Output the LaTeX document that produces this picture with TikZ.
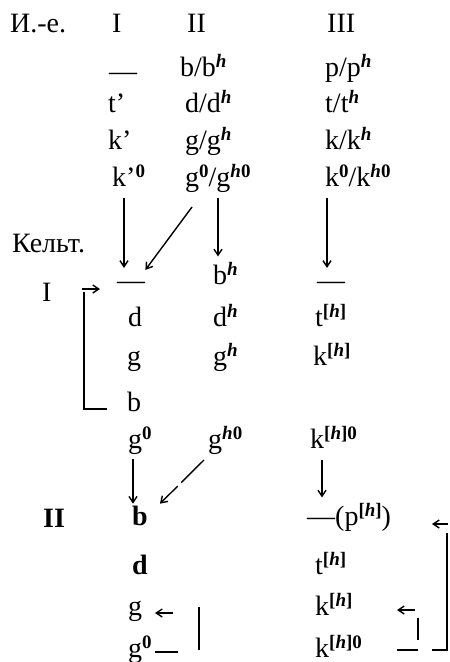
\documentclass[tikz,border=0pt]{standalone}
\usepackage{fontspec}
\setmainfont{Liberation Serif}
\usetikzlibrary{arrows.meta}
\newcommand\up[1]{\raisebox{8.5pt}{\fontsize{19}{19}\selectfont\bfseries #1}}
\newcommand\suph{\up{\textit{h}}}
\newcommand\supbh{\up{[\textit{h}]}}
\newcommand\supbhz{\up{[\textit{h}]0}}
\newcommand\suphz{\up{\textit{h}0}}
\newcommand\supz{\up{0}}
\begin{document}
\begin{tikzpicture}[x=1pt,y=-1pt,
  every node/.style={inner sep=0pt, font=\fontsize{28}{32}\selectfont},
  txt/.style={anchor=mid west},
  arr/.style={line width=1.4pt, -{Straight Barb[length=6pt,width=8pt]}},
  ln/.style={line width=1.5pt}]
\useasboundingbox[fill=white] (0,0) rectangle (450,662);
% header
\node[txt] (ie) at (10,30) {И.-е.};
\node[txt] (h1) at (112,30) {I};
\node[txt] (h2) at (187,30) {II};
\node[txt] (h3) at (327,30) {III};
% Indo-European rows
\node[txt] (aI1) at (109,78) {—};
\node[txt] (aII1) at (180,74) {b/b\suph};
\node[txt] (aIII1) at (325,74) {p/p\suph};
\node[txt] (aI2) at (108,110) {t’};
\node[txt] (aII2) at (185,110) {d/d\suph};
\node[txt] (aIII2) at (325,110) {t/t\suph};
\node[txt] (aI3) at (108,147) {k’};
\node[txt] (aII3) at (185,147) {g/g\suph};
\node[txt] (aIII3) at (325,147) {k/k\suph};
\node[txt] (aI4) at (112,184) {k’\supz};
\node[txt] (aII4) at (185,184) {g\supz/g\suphz};
\node[txt] (aIII4) at (325,184) {k\supz/k\suphz};
% Celtic
\node[txt] (kelt) at (12,250) {Кельт.};
\node[txt] (cI) at (42,299) {I};
\node[txt] (bI5) at (117,287) {—};
\node[txt] (bII5) at (213,282) {b\suph};
\node[txt] (bIII5) at (317,287) {—};
\node[txt] (bI6) at (128,324) {d};
\node[txt] (bII6) at (213,324) {d\suph};
\node[txt] (bIII6) at (315,324) {t\supbh};
\node[txt] (bI7) at (127,363) {g};
\node[txt] (bII7) at (213,363) {g\suph};
\node[txt] (bIII7) at (313,363) {k\supbh};
\node[txt] (bI8) at (127,409) {b};
\node[txt] (bI9) at (128,446) {g\supz};
\node[txt] (bII9) at (208,446) {g\suphz};
\node[txt] (bIII9) at (310,446) {k\supbhz};
\node[txt] (cII) at (43,525) {\bfseries II};
\node[txt] (bI10) at (132,523) {\bfseries b};
\node[txt] (bIII10) at (307,523) {—(p\supbh)};
\node[txt] (bI11) at (132,572) {\bfseries d};
\node[txt] (bIII11) at (315,572) {t\supbh};
\node[txt] (bI12) at (128,613) {g};
\node[txt] (bIII12) at (315,613) {k\supbh};
\node[txt] (bI13) at (128,655) {g\supz};
\node[txt] (bIII13) at (315,655) {k\supbhz};
% arrows, upper part
\coordinate (s1) at (124,198);
\coordinate (s2) at (218,198);
\coordinate (s3) at (327,198);
\coordinate (s4) at (192,207);
\draw[arr] (s1) -- ([yshift=14pt]s1 |- bI5.north);
\draw[arr] (s4) -- ([yshift=12pt]bI5.north east);
\draw[arr] (s2) -- ([yshift=6pt]s2 |- bII5.north);
\draw[arr] (s3) -- ([yshift=14pt]s3 |- bIII5.north);
% bracket Celtic I
\draw[ln] ([xshift=-20pt]bI8.mid west) -- ([xshift=-43pt]bI8.mid west)
  -- ([xshift=-43pt,yshift=-5pt]bI8.mid west |- bI5.mid west);
\draw[arr] ([xshift=-35pt,yshift=-2pt]bI5.mid west) -- ([xshift=-17pt,yshift=-2pt]bI5.mid west);
% arrows, lower part
\coordinate (t1) at (133,459);
\coordinate (t2) at (204,460);
\coordinate (t3) at (322,460);
\draw[arr] (t1) -- ([yshift=2pt]t1 |- bI10.north);
\draw[arr, dash pattern=on 32pt off 5pt] (t2) -- ([xshift=20pt,yshift=2pt]bI10.north);
\draw[arr] (t3) -- ([yshift=6pt]t3 |- bIII10.north);
% brackets Celtic II
\draw[arr] ([xshift=45pt]bI12.mid west) -- ([xshift=27pt]bI12.mid west);
\draw[ln] (199,607) -- (199,650);
\draw[ln] ([xshift=27pt,yshift=3pt]bI13.mid west) -- ([xshift=50pt,yshift=3pt]bI13.mid west);
\draw[arr] ([xshift=100pt,yshift=3pt]bIII12.mid west) -- ([xshift=82pt,yshift=3pt]bIII12.mid west);
\draw[ln] (418,618) -- (418,640);
\draw[ln] ([xshift=82pt,yshift=5pt]bIII13.mid west) -- ([xshift=103pt,yshift=5pt]bIII13.mid west);
\draw[arr] ([xshift=141pt,yshift=-1pt]bIII10.mid west) -- ([xshift=125pt,yshift=-1pt]bIII10.mid west);
\draw[ln] ([xshift=117pt,yshift=5pt]bIII13.mid west) -- ([xshift=132pt,yshift=5pt]bIII13.mid west) -- (447,533);
\end{tikzpicture}
\end{document}
